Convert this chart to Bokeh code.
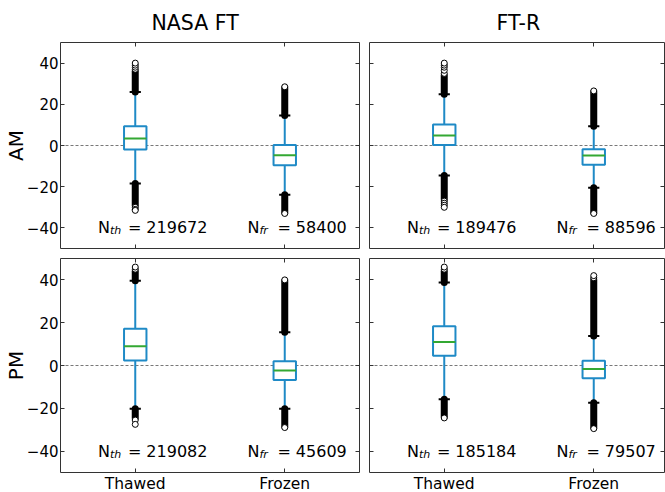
from bokeh.plotting import figure
from bokeh.models import Range1d, FixedTicker, LinearAxis, Span
from bokeh.layouts import column, row
from bokeh.embed import file_html
from bokeh.resources import INLINE
from bokeh.core.properties import value

col_titles = ["NASA FT", "FT-R"]
row_labels = ["AM", "PM"]
categories = ["Thawed", "Frozen"]
cat_pos = [1, 2]
y_ticks = [-40, -20, 0, 20, 40]
y_tick_labels = {-40: "\u221240", -20: "\u221220", 0: "0", 20: "20", 40: "40"}

# panel order: AM/NASA FT, AM/FT-R, PM/NASA FT, PM/FT-R ; each pair = [Thawed, Frozen]
q1 = [[-2.0, -9.6], [0.2, -9.4], [2.3, -6.8], [4.5, -5.9]]
median = [[3.4, -4.7], [4.9, -4.9], [9.0, -2.3], [11.0, -1.6]]
q3 = [[9.3, 0.3], [10.2, -1.8], [17.2, 2.0], [18.3, 2.2]]
whisker_lo = [[-18.4, -23.9], [-14.6, -20.5], [-20.2, -20.2], [-15.8, -17.4]]
whisker_hi = [[26.0, 14.6], [24.9, 9.3], [39.6, 15.5], [38.8, 13.8]]
dense_hi = [[36.0, 28.0], [34.0, 26.0], [44.0, 39.5], [44.0, 40.0]]
dense_lo = [[-29.0, -32.5], [-26.0, -32.5], [-24.5, -28.5], [-24.0, -29.0]]
sparse_hi = [[[37.0, 38.0, 39.0, 40.0], [28.5]],
             [[35.0, 36.5, 38.0, 39.0, 40.0], [26.5]],
             [[45.0, 46.0], [40.0]],
             [[45.0, 46.0], [41.0, 42.0]]]
sparse_lo = [[[-30.0, -31.0, -31.5], [-33.0]],
             [[-27.0, -28.0, -29.0, -30.0], [-33.0]],
             [[-25.5, -27.5], [-29.0]],
             [[-24.5], [-29.5]]]
n_counts = [[219672, 58400], [189476, 88596], [219082, 45609], [185184, 79507]]
n_subs = ["th", "fr"]

BOX = "#1f8ac6"
MED = "#33a833"
FRAME = "#333333"
FONT = "DejaVu Sans"
PX_PER_UNIT = 149.5


def hide_labels(ax):
    ax.major_label_text_font_size = "1px"
    ax.major_label_text_color = None
    ax.major_label_standoff = 0


def make_panel(k, top, left):
    fw = 299 if left else 295
    fh = 206 if top else 214
    xr = Range1d(0.5, 0.5 + fw / PX_PER_UNIT)
    p = figure(frame_width=fw, frame_height=fh, x_range=xr, y_range=Range1d(-50, 50),
               output_backend="svg", toolbar_location=None,
               min_border_left=60 if left else 5, min_border_right=5 if left else 1,
               min_border_top=42 if top else 5, min_border_bottom=5 if top else 20,
               background_fill_color="white", border_fill_color="white")
    p.xgrid.visible = False
    p.ygrid.visible = False
    p.outline_line_color = FRAME
    p.outline_line_width = 1

    if top:
        p.title.text = col_titles[0 if left else 1]
        p.title.text_font = FONT
        p.title.text_font_size = "20.5px"
        p.title.text_font_style = "normal"
        p.title.text_color = "black"
        p.title.align = "left"
        p.title.offset = 91 if left else 127
        p.title.standoff = 15
    else:
        p.title.visible = False

    ya = p.yaxis[0]
    ya.ticker = FixedTicker(ticks=y_ticks)
    ya.major_label_overrides = y_tick_labels
    ya.axis_line_color = None
    ya.major_tick_in = 4
    ya.major_tick_out = 0
    ya.minor_tick_line_color = None
    ya.major_tick_line_color = FRAME
    ya.major_label_text_font = FONT
    ya.major_label_text_color = "black"
    if left:
        ya.major_label_text_font_size = "15px"
        ya.major_label_standoff = 2
        ya.axis_label = row_labels[0 if top else 1]
        ya.axis_label_text_font = FONT
        ya.axis_label_text_font_size = "20px"
        ya.axis_label_text_font_style = "normal"
        ya.axis_label_text_color = "black"
        ya.axis_label_standoff = -4
    else:
        hide_labels(ya)

    xa = p.xaxis[0]
    xa.ticker = FixedTicker(ticks=cat_pos)
    xa.major_label_overrides = {c: n for c, n in zip(cat_pos, categories)}
    xa.axis_line_color = None
    xa.major_tick_in = 4
    xa.major_tick_out = 0
    xa.minor_tick_line_color = None
    xa.major_tick_line_color = FRAME
    xa.major_label_text_font = FONT
    xa.major_label_text_color = "black"
    if top:
        hide_labels(xa)
    else:
        xa.major_label_text_font_size = "15.5px"
        xa.major_label_standoff = 2

    for side, tk in (("right", y_ticks), ("above", cat_pos)):
        ax = LinearAxis(ticker=FixedTicker(ticks=tk), axis_line_color=None,
                        major_tick_in=4, major_tick_out=0, minor_tick_line_color=None,
                        major_tick_line_color=FRAME)
        hide_labels(ax)
        p.add_layout(ax, side)

    p.add_layout(Span(location=0, dimension="width", line_color="#555555",
                      line_width=0.8, line_dash="3 2", level="underlay"))

    xs = cat_pos
    # whiskers
    p.segment(x0=xs, x1=xs, y0=q3[k], y1=whisker_hi[k], line_color=BOX, line_width=2)
    p.segment(x0=xs, x1=xs, y0=q1[k], y1=whisker_lo[k], line_color=BOX, line_width=2)
    # dense outlier columns
    p.segment(x0=xs, x1=xs, y0=whisker_hi[k], y1=dense_hi[k], line_color="black",
              line_width=7, line_cap="round")
    p.segment(x0=xs, x1=xs, y0=whisker_lo[k], y1=dense_lo[k], line_color="black",
              line_width=7, line_cap="round")
    # sparse outliers
    ox, oy = [], []
    for j in range(2):
        for v in sparse_hi[k][j] + sparse_lo[k][j]:
            ox.append(xs[j])
            oy.append(v)
    p.scatter(x=ox, y=oy, marker="circle", size=6, fill_color="white",
              line_color="black", line_width=1)
    # caps
    p.segment(x0=[x - 0.0375 for x in xs], x1=[x + 0.0375 for x in xs],
              y0=whisker_hi[k], y1=whisker_hi[k], line_color="black", line_width=2)
    p.segment(x0=[x - 0.0375 for x in xs], x1=[x + 0.0375 for x in xs],
              y0=whisker_lo[k], y1=whisker_lo[k], line_color="black", line_width=2)
    # boxes
    p.quad(left=[x - 0.075 for x in xs], right=[x + 0.075 for x in xs],
           bottom=q1[k], top=q3[k], fill_color="white", line_color=BOX, line_width=2)
    # medians
    p.segment(x0=[x - 0.075 for x in xs], x1=[x + 0.075 for x in xs],
              y0=median[k], y1=median[k], line_color=MED, line_width=2)

    # N annotations
    tx = [x - 0.25 for x in xs]
    ty = [-40, -40]
    p.text(x=tx, y=ty, text=["N", "N"], text_font=value(FONT), text_font_size="16px",
           text_baseline="alphabetic", text_align="left", text_color="black")
    p.text(x=tx, y=ty, text=n_subs, text_font=value(FONT), text_font_size="11px",
           text_font_style="italic", text_baseline="alphabetic", text_align="left",
           x_offset=12, y_offset=3, text_color="black")
    p.text(x=tx, y=ty, text=["= %d" % n for n in n_counts[k]], text_font=value(FONT),
           text_font_size="16px", text_baseline="alphabetic", text_align="left",
           x_offset=30, text_color="black")
    return p


p1 = make_panel(0, True, True)
p2 = make_panel(1, True, False)
p3 = make_panel(2, False, True)
p4 = make_panel(3, False, False)

layout = column(row(p1, p2), row(p3, p4))
open("out.html", "w").write(file_html(layout, INLINE))
